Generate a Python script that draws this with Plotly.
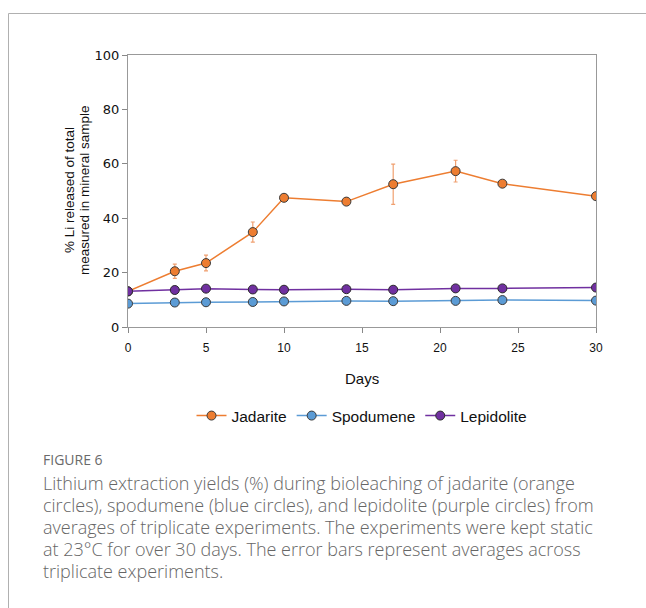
import plotly.graph_objects as go

days = [0, 3, 5, 8, 10, 14, 17, 21, 24, 30]
jadarite = [13.1, 20.5, 23.5, 34.9, 47.5, 46.1, 52.5, 57.3, 52.7, 48.1]
jadarite_err = [0.4, 2.6, 2.9, 3.7, 0.5, 1.0, 7.4, 4.0, 0.5, 0.5]
spodumene = [8.6, 9.0, 9.1, 9.2, 9.4, 9.6, 9.5, 9.6, 9.9, 9.7]
lepidolite = [13.1, 13.6, 14.1, 13.8, 13.7, 13.9, 13.7, 14.2, 14.2, 14.5]

x_ticks = [0, 5, 10, 15, 20, 25, 30]
y_ticks = [0, 20, 40, 60, 80, 100]

y_title_lines = ["% Li released of total", "measured in mineral sample"]
caption_title = "FIGURE 6"
caption_lines = [
    "Lithium extraction yields (%) during bioleaching of jadarite (orange",
    "circles), spodumene (blue circles), and lepidolite (purple circles) from",
    "averages of triplicate experiments. The experiments were kept static",
    "at 23°C for over 30 days. The error bars represent averages across",
    "triplicate experiments.",
]

W, H = 646, 608
L, R, T, B = 128, 50, 55, 281
PW, PH = W - L - R, H - T - B

def px(x):
    return (x - L) / PW

def py(y):
    return (H - B - y) / PH

fig = go.Figure()
fig.add_trace(go.Scatter(
    x=days, y=jadarite, name="Jadarite", mode="lines+markers",
    line=dict(color="#ED7D31", width=1.5),
    marker=dict(size=9, color="#ED7D31", line=dict(color="#3a3a3a", width=1)),
    error_y=dict(type="data", array=jadarite_err, color="#F0A070", thickness=1.2, width=2),
))
fig.add_trace(go.Scatter(
    x=days, y=spodumene, name="Spodumene", mode="lines+markers",
    line=dict(color="#5B9BD5", width=1.5),
    marker=dict(size=9, color="#5B9BD5", line=dict(color="#3a3a3a", width=1)),
))
fig.add_trace(go.Scatter(
    x=days, y=lepidolite, name="Lepidolite", mode="lines+markers",
    line=dict(color="#7030A0", width=1.5),
    marker=dict(size=9, color="#7030A0", line=dict(color="#2a2a2a", width=1)),
))

annotations = [
    dict(text="Days", x=0.5, y=py(378), xref="paper", yref="paper",
         xanchor="center", yanchor="middle",
         showarrow=False, font=dict(family="Liberation Sans", size=15, color="#111")),
]
for i, line in enumerate(y_title_lines):
    annotations.append(dict(text=line, x=px(69 + 15 * i), y=py(190), xref="paper", yref="paper",
                            xanchor="center", yanchor="middle", showarrow=False, textangle=-90,
                            font=dict(family="Liberation Sans", size=13.5, color="#111")))
annotations.append(dict(text=caption_title, x=px(41), y=py(459), xref="paper", yref="paper",
                        xanchor="left", yanchor="middle", showarrow=False,
                        font=dict(family="Open Sans", size=14, color="#6a6a6a", weight=500)))
for i, line in enumerate(caption_lines):
    annotations.append(dict(text=line, x=px(41), y=py(483 + 22 * i), xref="paper", yref="paper",
                            xanchor="left", yanchor="middle", showarrow=False,
                            font=dict(family="Open Sans", size=18, color="#666666", weight=300)))

fig.update_layout(
    width=W, height=H,
    margin=dict(l=L, r=R, t=T, b=B),
    paper_bgcolor="white", plot_bgcolor="white",
    showlegend=True,
    legend=dict(orientation="h", x=0.5, xanchor="center", y=py(416), yanchor="middle",
                font=dict(family="Liberation Sans", size=15.5, color="#111"),
                itemwidth=30, tracegroupgap=0),
    annotations=annotations,
    shapes=[dict(type="rect", xref="paper", yref="paper",
                 x0=px(8.5), x1=px(700), y0=py(13.5), y1=py(650),
                 line=dict(color="#b0b0b0", width=1), fillcolor="rgba(0,0,0,0)", layer="below")],
    xaxis=dict(range=[0, 30], tickvals=x_ticks, ticks="outside", ticklen=5, tickcolor="#888",
               showline=True, linecolor="#999", linewidth=1, mirror=True, showgrid=False, zeroline=False,
               ticklabelstandoff=5,
               tickfont=dict(family="Liberation Sans", size=12, color="#111")),
    yaxis=dict(range=[0, 100], tickvals=y_ticks, ticks="outside", ticklen=5, tickcolor="#888",
               showline=True, linecolor="#999", linewidth=1, mirror=True, showgrid=False, zeroline=False,
               tickfont=dict(family="DejaVu Sans", size=13, color="#111")),
)

fig.write_html("out.html")
